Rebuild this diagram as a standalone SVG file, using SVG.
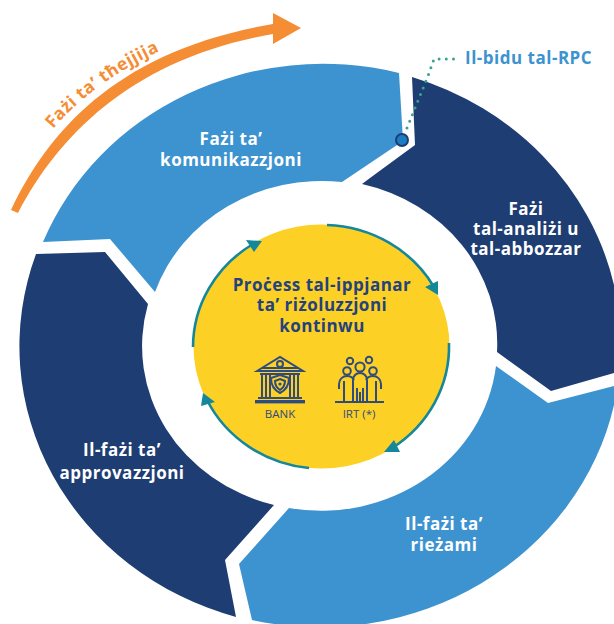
<svg xmlns="http://www.w3.org/2000/svg" width="614" height="624" viewBox="0 0 614 624">
<style>
text{font-family:"Open Sans","Noto Sans","Liberation Sans",sans-serif}
.seg-l{fill:#3d93d0}.seg-d{fill:#1e3d73}
.lab{font-weight:700;font-size:17px;letter-spacing:.5px;fill:#fff;text-anchor:middle}
.cen{font-weight:700;font-size:17px;letter-spacing:.5px;fill:#24427c;text-anchor:middle}
.ico{font-size:11.5px;fill:#2f4c7c;text-anchor:middle}
.ring{fill:none;stroke:#14879a;stroke-width:2.6}
.head{fill:#14879a}
.ic{fill:none;stroke:#2f4c7c;stroke-width:2}
</style>
<rect width="614" height="624" fill="#fff"/>
<g id="fase-komunikazzjoni">
<path class="seg-l" d="M43,242L110,239L155,292A176,164 0 0 1 342,182L403,141L399,73A301,282 0 0 0 43,242Z"/>
<text class="lab" x="231" y="145">Fażi ta’</text><text class="lab" x="231" y="166">komunikazzjoni</text>
</g>
<g id="fase-analizi">
<path class="seg-d" d="M412,77A301,282 0 0 1 614,285L614,373L551,391L497,352A176,164 0 0 0 362,184L370,178L415,145Z"/>
<text class="lab" x="526" y="215">Fażi</text><text class="lab" x="526" y="235">tal-analiżi u</text><text class="lab" x="526" y="255">tal-abbozzar</text>
</g>
<g id="fase-rieżami">
<path class="seg-l" d="M496,366L548,403L614,386L614,405A301,282 0 0 1 252,620L239,564L289,508A176,164 0 0 0 496,366Z"/>
<text class="lab" x="444" y="530">Il-fażi ta’</text><text class="lab" x="444" y="551">rieżami</text>
</g>
<g id="fase-approvazzjoni">
<path class="seg-d" d="M36,254L105,252L148,304A176,164 0 0 0 274,505L225,560L236,617A301,282 0 0 1 36,254Z"/>
<text class="lab" x="122" y="456">Il-fażi ta’</text><text class="lab" x="122" y="479">approvazzjoni</text>
</g>
<g id="fase-thejjija">
<path fill="#f58d35" d="M11,210C50,128 120,50 273,24L273,13L301,28L273,44L273,34C135,58 60,133 18,213Z"/>
<path id="tp" fill="none" d="M53,129C80,97 118,70 162,50"/>
<text font-weight="700" font-size="17.5" letter-spacing=".4" fill="#f58d35"><textPath href="#tp">Fażi ta’ tħejjija</textPath></text>
</g>
<g id="bidu">
<path d="M407,128L428,76L434,59L456,59" fill="none" stroke="#3aa290" stroke-width="3" stroke-linecap="round" stroke-dasharray="0 7.2"/>
<circle cx="402" cy="140" r="6" fill="#1a7cc4" stroke="#1e3d73" stroke-width="2"/>
<text x="465" y="64" font-weight="700" font-size="17" letter-spacing=".5" fill="#3d93d0">Il-bidu tal-RPC</text>
</g>
<g id="process">
<ellipse cx="321.5" cy="346.5" rx="128" ry="122" fill="#fdd026"/>
<g id="connectors">
<path class="ring" d="M327,225A128,122 0 0 1 434,287"/>
<path class="ring" d="M449,343A128,122 0 0 1 392,448"/>
<path class="ring" d="M309,468A128,122 0 0 1 207,400"/>
<path class="ring" d="M193,347A128,122 0 0 1 253,244"/>
<polygon class="head" points="425,287 438,281 438,295"/>
<polygon class="head" points="384,452 394,440 400,452"/>
<polygon class="head" points="201,406 203,393 215,402"/>
<polygon class="head" points="262,241 246,240 254,252"/>
</g>
<text class="cen" x="322" y="291">Proċess tal-ippjanar</text>
<text class="cen" x="322" y="311">ta’ riżoluzzjoni</text>
<text class="cen" x="322" y="332">kontinwu</text>
</g>
<g id="bank">
<path class="ic" d="M257,371L280,357L303,371ZM262,368H298M260,374H300M262,374V397M266,374V397M270,374V397M290,374V397M294,374V397M298,374V397M258,398H302"/>
<circle class="ic" cx="280" cy="364" r="3"/>
<path class="ic" d="M280,375L289,378C289,385 286,390 280,393C274,390 271,385 271,378ZM280,379L285,381C285,385 283,388 280,390C277,388 275,385 275,381Z"/>
<circle cx="280" cy="384" r="1.6" fill="#2f4c7c"/>
<rect x="255" y="400" width="50" height="3.4" fill="#2f4c7c"/>
<text class="ico" x="280" y="418">BANK</text>
</g>
<g id="irt">
<circle class="ic" cx="350" cy="361" r="3.2"/><circle class="ic" cx="369" cy="360" r="3.2"/>
<circle class="ic" cx="360" cy="367" r="4.6"/><circle class="ic" cx="347" cy="371" r="3.8"/><circle class="ic" cx="373" cy="371" r="3.8"/>
<path class="ic" d="M339,389V384C339,379 343,376 347,376C351,376 353,378 354,380M381,389V384C381,379 377,376 373,376C369,376 367,378 366,380M344,401V381M376,401V381M353,401V380C353,376 356,373 360,373C364,373 367,376 367,380V401M357,401V388M363,401V388M360,401V392"/>
<path d="M335,402H384" stroke="#2f4c7c" stroke-width="2" fill="none"/>
<text class="ico" x="359" y="418">IRT (*)</text>
</g>
</svg>
